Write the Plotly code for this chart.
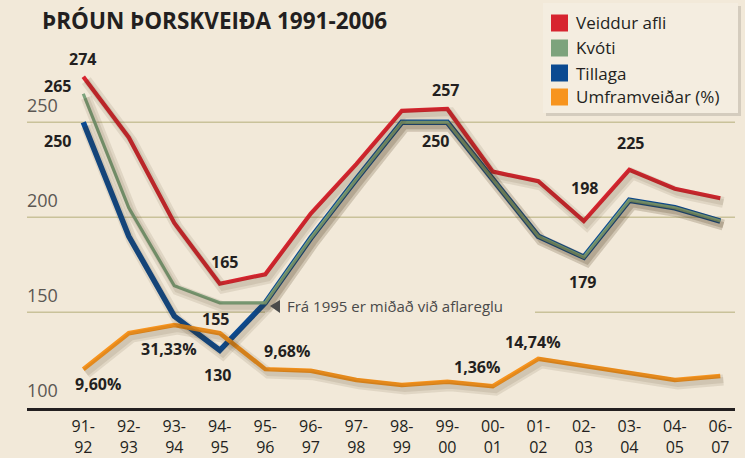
import plotly.graph_objects as go

# ---------------- data ----------------
categories = ["91-<br>92", "92-<br>93", "93-<br>94", "94-<br>95", "95-<br>96",
              "96-<br>97", "97-<br>98", "98-<br>99", "99-<br>00", "00-<br>01",
              "01-<br>02", "02-<br>03", "03-<br>04", "04-<br>05", "06-<br>07"]

veiddur_afli = [274, 242, 197, 165, 170, 202, 228, 256, 257, 224, 219, 198, 225, 215, 210]
kvoti        = [265, 205, 164, 155, 155, 189, 220, 250, 250, 220, 190, 179, 209, 205, 198]
tillaga      = [250, 190, 148, 130, 155, 189, 220, 250, 250, 220, 190, 179, 209, 205, 198]
umframveidar = [9.60, 27.3, 31.33, 27.3, 9.68, 8.9, 4.4, 1.9, 3.5, 1.36, 14.74, 11.2, 7.9, 4.4, 6.3]

series_names = ["Veiddur afli", "Kvóti", "Tillaga", "Umframveiðar (%)"]
series_colors = ["#d7242f", "#7da37c", "#0b4a91", "#f7941e"]

y_ticks = [100, 150, 200, 250]
title_text = "ÞRÓUN ÞORSKVEIÐA 1991-2006"
note_text = "Frá 1995 er miðað við aflareglu"

# value labels: (series, index, text)
value_labels = [
    ("afli", 0, "274"), ("kvoti", 0, "265"), ("tillaga", 0, "250"),
    ("afli", 3, "165"), ("kvoti", 3, "155"), ("tillaga", 3, "130"),
    ("afli", 8, "257"), ("kvoti", 8, "250"),
    ("afli", 11, "198"), ("tillaga", 11, "179"), ("afli", 12, "225"),
    ("pct", 0, "9,60%"), ("pct", 2, "31,33%"), ("pct", 4, "9,68%"),
    ("pct", 9, "1,36%"), ("pct", 10, "14,74%"),
]

# ---------------- layout geometry ----------------
W, H = 745, 458
L, R, T, B = 27, 10, 40, 50
PW, PH = W - L - R, H - T - B
BG = "#f2e9d9"
DARK = "#231f20"
FONT = "Open Sans"

XR = [-1.237, 14.323]          # category index range
YR = [99.63, 293.3]            # main value range
Y2R = [-9.36, 171.0]           # percent range
SHX, SHY = 3, 4                # shadow offset in pixels
x_unit = PW / (XR[1] - XR[0])
y_unit = PH / (YR[1] - YR[0])
y2_unit = PH / (Y2R[1] - Y2R[0])


def px(x):
    return (x - L) / PW


def py(y):
    return (H - B - y) / PH


fig = go.Figure()

SHADOW = "rgba(70,50,20,0.10)"
# soft drop shadows (same data on slightly offset axes)
for vals, ax in [(umframveidar, "y4"), (tillaga, "y3"), (kvoti, "y3"), (veiddur_afli, "y3")]:
    for w in (11, 6):
        fig.add_trace(go.Scatter(x=categories, y=vals, xaxis="x2", yaxis=ax, mode="lines",
                                 line=dict(color=SHADOW, width=w), hoverinfo="skip",
                                 showlegend=False))

# orange on secondary axis (drawn first, underneath)
fig.add_trace(go.Scatter(x=categories, y=umframveidar, yaxis="y2", mode="lines",
                         line=dict(color=series_colors[3], width=4.5),
                         name=series_names[3], showlegend=False))
fig.add_trace(go.Scatter(x=categories, y=tillaga, mode="lines",
                         line=dict(color=series_colors[2], width=5.5),
                         name=series_names[2], showlegend=False))
fig.add_trace(go.Scatter(x=categories, y=kvoti, mode="lines",
                         line=dict(color=series_colors[1], width=3.2),
                         name=series_names[1], showlegend=False))
fig.add_trace(go.Scatter(x=categories, y=veiddur_afli, mode="lines",
                         line=dict(color=series_colors[0], width=4.2),
                         name=series_names[0], showlegend=False))

shapes = []
# gridlines
for t in y_ticks[1:]:
    if t == 150:
        segs = [(0, px(265)), (px(535), 1)]
    else:
        segs = [(0, 1)]
    for a, b in segs:
        shapes.append(dict(type="line", xref="paper", yref="y", x0=a, x1=b, y0=t, y1=t,
                           line=dict(color="#c9c29a", width=1.5), layer="below"))

annotations = []
# y tick labels
for t in y_ticks:
    annotations.append(dict(xref="paper", yref="y", x=px(25), y=t, text=str(t),
                            xanchor="left", yanchor="middle", yshift=17, showarrow=False,
                            font=dict(family=FONT, size=18, color="#5b5753")))

# value labels
label_pos = {
    ("afli", 0): (82, 59), ("kvoti", 0): (57, 86), ("tillaga", 0): (57, 141),
    ("afli", 3): (224, 262), ("kvoti", 3): (215, 319), ("tillaga", 3): (217, 375),
    ("afli", 8): (445, 90), ("kvoti", 8): (435, 141),
    ("afli", 11): (584, 188), ("tillaga", 11): (582, 282), ("afli", 12): (630, 143),
    ("pct", 0): (98, 384), ("pct", 2): (169, 349), ("pct", 4): (287, 351),
    ("pct", 9): (477, 367), ("pct", 10): (533, 342),
}
for s, i, txt in value_labels:
    x, y = label_pos[(s, i)]
    annotations.append(dict(xref="paper", yref="paper", x=px(x), y=py(y), text="<b>" + txt + "</b>",
                            xanchor="center", yanchor="middle", showarrow=False,
                            font=dict(family=FONT, size=16, color=DARK)))

# note with triangle
shapes.append(dict(type="path", xref="paper", yref="paper",
                   path=f"M {px(270)} {py(306)} L {px(280)} {py(300)} L {px(280)} {py(313)} Z",
                   fillcolor="#4a4a4a", line=dict(width=0)))
annotations.append(dict(xref="paper", yref="paper", x=px(285), y=py(306), text=note_text,
                        xanchor="left", yanchor="middle", showarrow=False,
                        font=dict(family=FONT, size=15, color="#4a4a4a")))

# legend (manual)
shapes.append(dict(type="rect", xref="paper", yref="paper", x0=px(546), x1=px(741), y0=py(6), y1=py(116),
                   fillcolor="rgba(0,0,0,0.12)", line=dict(width=0)))
shapes.append(dict(type="rect", xref="paper", yref="paper", x0=px(543), x1=px(738), y0=py(3), y1=py(113),
                   fillcolor="#f4ede0", line=dict(width=0)))
rows = [23, 48, 73, 97]
for name, col, yc in zip(series_names, series_colors, rows):
    shapes.append(dict(type="rect", xref="paper", yref="paper", x0=px(551), x1=px(568),
                       y0=py(yc - 8.5), y1=py(yc + 8.5), fillcolor=col, line=dict(width=0)))
    annotations.append(dict(xref="paper", yref="paper", x=px(574), y=py(yc), text=name,
                            xanchor="left", yanchor="middle", showarrow=False,
                            font=dict(family=FONT, size=17, color=DARK)))

hidden = dict(showgrid=False, zeroline=False, showticklabels=False, ticks="",
              automargin=False, showline=False)

fig.update_layout(
    width=W, height=H, autosize=False,
    margin=dict(l=L, r=R, t=T, b=B, autoexpand=False),
    paper_bgcolor=BG, plot_bgcolor=BG,
    showlegend=False,
    title=dict(text="<b>" + title_text + "</b>", xref="container", yref="container",
               x=42 / W, y=1 - 21 / H, xanchor="left", yanchor="middle",
               font=dict(family=FONT, size=22.5, color=DARK)),
    xaxis=dict(type="category", range=XR, showgrid=False, zeroline=False,
               showline=True, linecolor=DARK, linewidth=3, ticks="", automargin=False,
               ticklabelstandoff=2,
               tickfont=dict(family=FONT, size=16, color=DARK)),
    xaxis2=dict(type="category", overlaying="x",
                range=[XR[0] - SHX / x_unit, XR[1] - SHX / x_unit], **hidden),
    yaxis=dict(range=YR, **hidden),
    yaxis2=dict(range=Y2R, overlaying="y", side="right", **hidden),
    yaxis3=dict(range=[YR[0] + SHY / y_unit, YR[1] + SHY / y_unit], overlaying="y", **hidden),
    yaxis4=dict(range=[Y2R[0] + SHY / y2_unit, Y2R[1] + SHY / y2_unit], overlaying="y", **hidden),
    shapes=shapes, annotations=annotations,
)

fig.write_html("out.html", config={"displayModeBar": False},
               post_script="document.body.style.margin='0';document.body.style.padding='0';"
                           "document.body.style.overflow='hidden';")
